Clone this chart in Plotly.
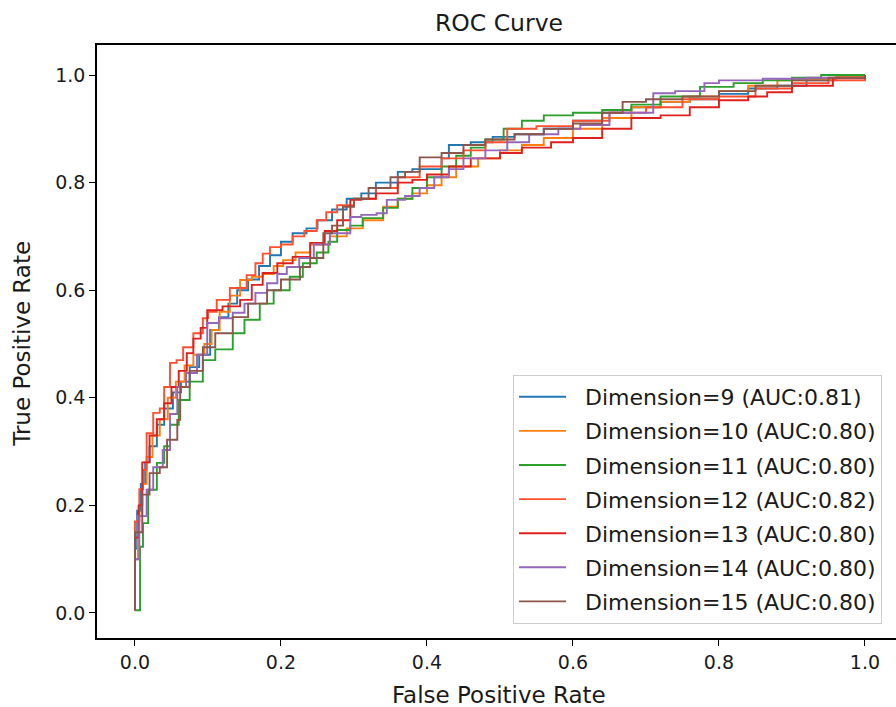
import plotly.graph_objects as go

# ---- data (FPR, TPR per curve) ----
labels = [
    "Dimension=9 (AUC:0.81)",
    "Dimension=10 (AUC:0.80)",
    "Dimension=11 (AUC:0.80)",
    "Dimension=12 (AUC:0.82)",
    "Dimension=13 (AUC:0.80)",
    "Dimension=14 (AUC:0.80)",
    "Dimension=15 (AUC:0.80)",
]
colors = ["#1f77b4", "#ff7f0e", "#2ca02c", "#ff4f2e", "#e0201c", "#9467bd", "#8c564b"]

fpr_9 = [0, 0, 0.003, 0.008, 0.014, 0.02, 0.03, 0.04, 0.052, 0.063, 0.075, 0.088, 0.103, 0.115, 0.128, 0.14,
         0.155, 0.17, 0.185, 0.2, 0.216, 0.235, 0.25, 0.27, 0.29, 0.31, 0.33, 0.36, 0.38, 0.40, 0.42, 0.43,
         0.46, 0.49, 0.52, 0.56, 0.6, 0.64, 0.68, 0.72, 0.76, 0.8, 0.84, 0.88, 0.92, 0.96, 1.0]
tpr_9 = [0.005, 0.12, 0.19, 0.24, 0.28, 0.31, 0.35, 0.38, 0.41, 0.43, 0.457, 0.48, 0.526, 0.55, 0.575, 0.60,
         0.62, 0.645, 0.665, 0.69, 0.706, 0.715, 0.73, 0.75, 0.77, 0.78, 0.80, 0.82, 0.825, 0.825, 0.845, 0.87,
         0.875, 0.885, 0.89, 0.9, 0.915, 0.93, 0.94, 0.95, 0.955, 0.965, 0.975, 0.98, 0.99, 0.995, 1.0]

fpr_10 = [0, 0, 0.004, 0.01, 0.016, 0.024, 0.034, 0.045, 0.056, 0.068, 0.08, 0.095, 0.105, 0.116, 0.13, 0.144,
          0.16, 0.175, 0.19, 0.203, 0.22, 0.24, 0.267, 0.29, 0.312, 0.34, 0.36, 0.38, 0.4, 0.42, 0.44, 0.47,
          0.5, 0.53, 0.56, 0.6, 0.64, 0.68, 0.72, 0.76, 0.8, 0.84, 0.88, 0.92, 0.96, 1.0]
tpr_10 = [0.005, 0.1, 0.18, 0.24, 0.29, 0.33, 0.36, 0.4, 0.43, 0.46, 0.48, 0.5, 0.526, 0.56, 0.59, 0.619,
          0.625, 0.63, 0.645, 0.656, 0.67, 0.685, 0.70, 0.715, 0.73, 0.755, 0.77, 0.78, 0.795, 0.81, 0.83, 0.845,
          0.86, 0.87, 0.883, 0.9, 0.92, 0.94, 0.95, 0.96, 0.97, 0.98, 0.99, 0.993, 0.997, 1.0]

fpr_11 = [0, 0.007, 0.011, 0.018, 0.03, 0.04, 0.048, 0.06, 0.075, 0.093, 0.11, 0.134, 0.15, 0.171, 0.19, 0.212,
          0.23, 0.249, 0.265, 0.277, 0.295, 0.312, 0.34, 0.36, 0.38, 0.40, 0.42, 0.44, 0.46, 0.48, 0.505, 0.53,
          0.56, 0.6, 0.64, 0.68, 0.72, 0.774, 0.82, 0.86, 0.9, 0.94, 1.0]
tpr_11 = [0.005, 0.123, 0.167, 0.229, 0.279, 0.31, 0.35, 0.396, 0.43, 0.47, 0.49, 0.52, 0.545, 0.575, 0.6, 0.625,
          0.65, 0.67, 0.69, 0.712, 0.72, 0.734, 0.753, 0.77, 0.79, 0.81, 0.83, 0.85, 0.865, 0.88, 0.9, 0.915,
          0.925, 0.93, 0.935, 0.945, 0.96, 0.978, 0.985, 0.99, 0.995, 1.0, 1.0]

fpr_12 = [0, 0, 0.006, 0.011, 0.016, 0.025, 0.034, 0.04, 0.048, 0.057, 0.066, 0.08, 0.093, 0.1, 0.112, 0.13,
          0.153, 0.165, 0.175, 0.185, 0.2, 0.216, 0.232, 0.249, 0.262, 0.277, 0.3, 0.33, 0.36, 0.39, 0.42, 0.45,
          0.48, 0.51, 0.55, 0.6, 0.65, 0.7, 0.75, 0.8, 0.85, 0.9, 0.95, 1.0]
tpr_12 = [0.005, 0.17, 0.23, 0.266, 0.334, 0.372, 0.38, 0.42, 0.465, 0.47, 0.494, 0.52, 0.548, 0.56, 0.582, 0.604,
          0.628, 0.65, 0.668, 0.68, 0.685, 0.70, 0.71, 0.73, 0.745, 0.758, 0.77, 0.79, 0.81, 0.83, 0.845, 0.86,
          0.875, 0.9, 0.905, 0.915, 0.93, 0.94, 0.955, 0.96, 0.975, 0.985, 0.99, 1.0]

fpr_13 = [0, 0, 0.005, 0.01, 0.02, 0.03, 0.04, 0.05, 0.06, 0.071, 0.08, 0.09, 0.099, 0.12, 0.144, 0.16, 0.175,
          0.195, 0.216, 0.24, 0.26, 0.277, 0.295, 0.31, 0.33, 0.36, 0.38, 0.40, 0.43, 0.46, 0.5, 0.53, 0.57, 0.6,
          0.64, 0.68, 0.72, 0.76, 0.8, 0.84, 0.866, 0.9, 0.956, 1.0]
tpr_13 = [0.005, 0.14, 0.2, 0.28, 0.33, 0.36, 0.39, 0.42, 0.45, 0.483, 0.51, 0.53, 0.563, 0.57, 0.582, 0.61, 0.632,
          0.65, 0.662, 0.688, 0.71, 0.73, 0.768, 0.77, 0.78, 0.80, 0.805, 0.815, 0.83, 0.845, 0.855, 0.865, 0.875,
          0.883, 0.9, 0.92, 0.925, 0.94, 0.953, 0.96, 0.968, 0.98, 0.994, 1.0]

fpr_14 = [0, 0, 0.006, 0.016, 0.025, 0.038, 0.048, 0.058, 0.07, 0.085, 0.099, 0.115, 0.134, 0.15, 0.165, 0.181,
          0.195, 0.208, 0.225, 0.245, 0.267, 0.295, 0.31, 0.331, 0.345, 0.37, 0.39, 0.41, 0.43, 0.45, 0.48, 0.51,
          0.54, 0.58, 0.61, 0.65, 0.71, 0.74, 0.78, 0.8, 0.86, 0.92, 1.0]
tpr_14 = [0.005, 0.1, 0.18, 0.229, 0.271, 0.303, 0.37, 0.42, 0.446, 0.48, 0.539, 0.548, 0.558, 0.575, 0.595, 0.613,
          0.63, 0.643, 0.66, 0.685, 0.706, 0.736, 0.74, 0.743, 0.768, 0.775, 0.79, 0.81, 0.825, 0.845, 0.86, 0.875,
          0.89, 0.90, 0.907, 0.93, 0.966, 0.97, 0.985, 0.99, 0.993, 0.995, 1.0]

fpr_15 = [0, 0, 0.01, 0.02, 0.034, 0.044, 0.058, 0.062, 0.075, 0.093, 0.11, 0.134, 0.155, 0.181, 0.2, 0.226, 0.24,
          0.258, 0.27, 0.285, 0.3, 0.32, 0.35, 0.37, 0.39, 0.42, 0.45, 0.48, 0.52, 0.56, 0.6, 0.64, 0.668, 0.7,
          0.75, 0.8, 0.85, 0.9, 0.95, 1.0]
tpr_15 = [0.005, 0.15, 0.22, 0.26, 0.271, 0.322, 0.359, 0.42, 0.45, 0.494, 0.52, 0.55, 0.575, 0.60, 0.62, 0.643,
          0.66, 0.706, 0.72, 0.755, 0.77, 0.79, 0.81, 0.82, 0.847, 0.855, 0.87, 0.88, 0.89, 0.9, 0.91, 0.93,
          0.95, 0.955, 0.96, 0.97, 0.98, 0.99, 0.995, 1.0]

fprs = [fpr_9, fpr_10, fpr_11, fpr_12, fpr_13, fpr_14, fpr_15]
tprs = [tpr_9, tpr_10, tpr_11, tpr_12, tpr_13, tpr_14, tpr_15]

xticks = [0.0, 0.2, 0.4, 0.6, 0.8, 1.0]
yticks = [0.0, 0.2, 0.4, 0.6, 0.8, 1.0]

title_text = "ROC Curve"
xlabel = "False Positive Rate"
ylabel = "True Positive Rate"

FONT = "DejaVu Sans"
TXT = "#1a1a1a"

fig = go.Figure()
for i, (fx, ty) in enumerate(zip(fprs, tprs)):
    fig.add_trace(go.Scatter(
        x=fx, y=ty, mode="lines", name="  " + labels[i],
        line=dict(color=colors[i], width=1.9, shape="hv"),
        legendgroup=f"g{i}",
    ))

axis_common = dict(
    showgrid=False, zeroline=False, automargin=False,
    showline=True, linecolor="black", linewidth=1.5,
    ticks="outside", ticklen=6, tickwidth=1.4, tickcolor="black",
    tickfont=dict(family=FONT, size=19, color=TXT),
    tickformat=".1f",
)

fig.update_layout(
    width=896, height=707,
    margin=dict(l=97, r=0, t=45, b=69, autoexpand=False),
    paper_bgcolor="white", plot_bgcolor="white",
    xaxis=dict(range=[-0.052, 1.0425], tickvals=xticks, mirror=True, **axis_common),
    yaxis=dict(range=[-0.0465, 1.0558], tickvals=yticks, mirror=False, **axis_common),
    legend=dict(x=0.5207, xanchor="left", y=0.0236, yanchor="bottom",
                bgcolor="rgba(255,255,255,0.85)", bordercolor="#cccccc", borderwidth=1,
                font=dict(family=FONT, size=22, color=TXT),
                tracegroupgap=2.5, traceorder="grouped", itemwidth=47),
    showlegend=True,
    annotations=[
        dict(text=title_text, xref="paper", yref="paper", x=0.503, y=1.037,
             xanchor="center", yanchor="middle", showarrow=False,
             font=dict(family=FONT, size=23.5, color=TXT)),
        dict(text=xlabel, xref="paper", yref="paper", x=0.503, y=-0.0961,
             xanchor="center", yanchor="middle", showarrow=False,
             font=dict(family=FONT, size=23, color=TXT)),
        dict(text=ylabel, xref="paper", yref="paper", x=-0.094, y=0.496, textangle=-90,
             xanchor="center", yanchor="middle", showarrow=False,
             font=dict(family=FONT, size=23, color=TXT)),
    ],
)

fig.write_html("out.html",
               config={"displayModeBar": False},
               post_script="document.body.style.margin='0';document.body.style.overflow='hidden';")
